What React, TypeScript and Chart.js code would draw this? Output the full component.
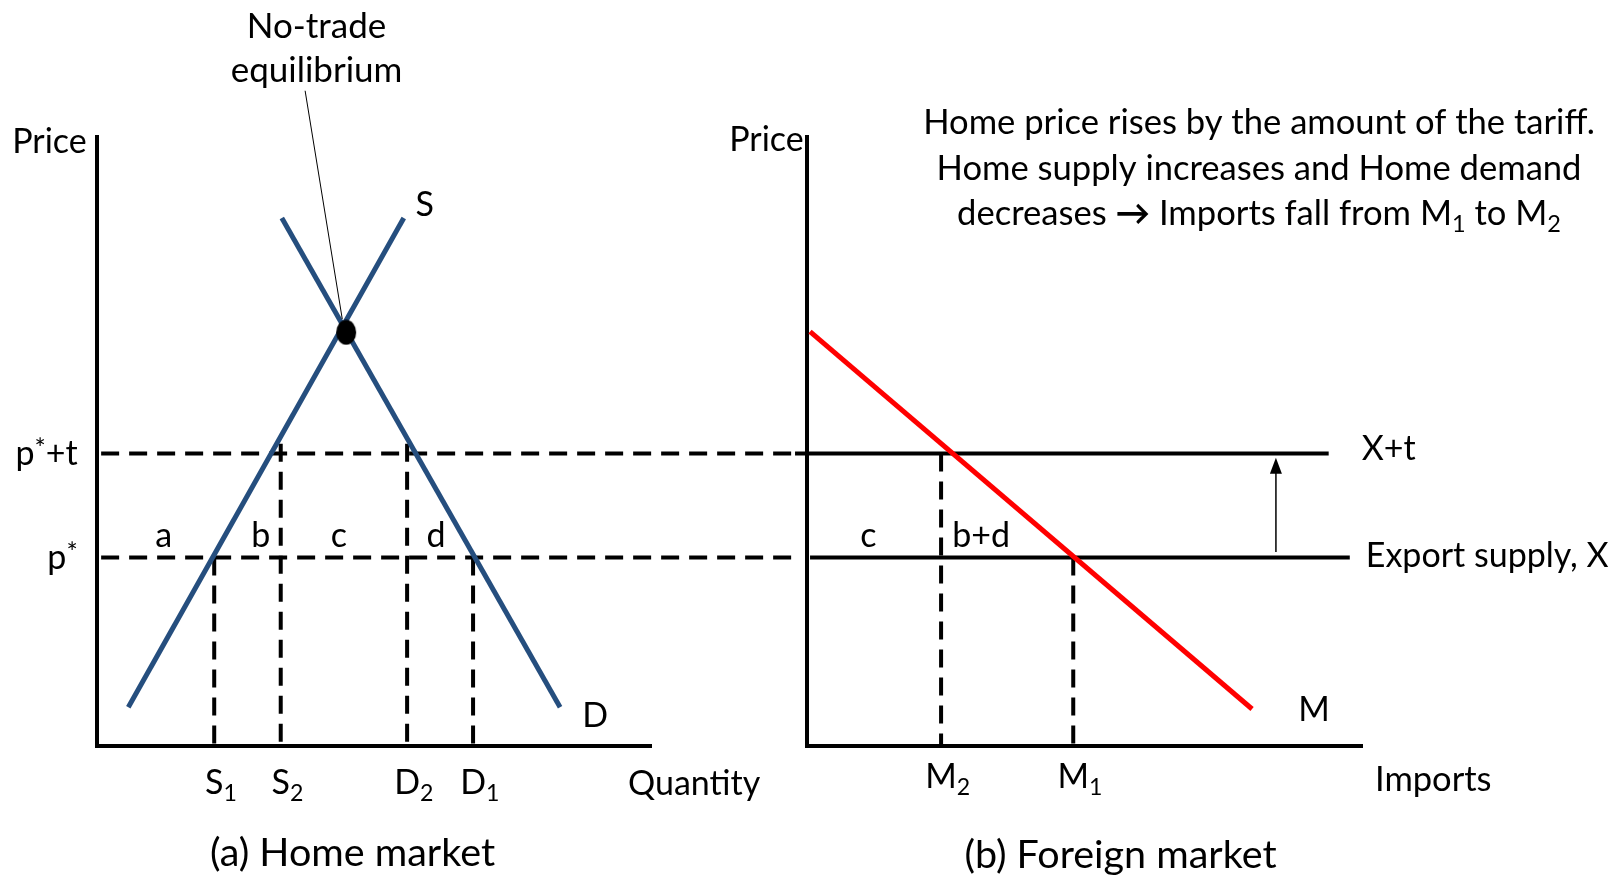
import React, { useEffect, useRef } from 'react';
import { Chart, registerables } from 'chart.js';

Chart.register(...registerables);

const FONT = 'Lato, "Open Sans", sans-serif';

// ---------- Panel (a): Home market ----------
const supplyQty = [5.7, 55.4];
const supplyPrice = [6.3, 86.7];
const demandQty = [33.4, 83.6];
const demandPrice = [86.7, 6.3];
const equilibriumQty = [45.0];
const equilibriumPrice = [67.9];
const leaderQty = [37.6, 44.3];
const leaderPrice = [107.6, 70.1];
const priceLevels = [30.9, 48.0]; // p*, p*+t
const priceDashEnd = [126.5, 126.5];
const homeMarks = [21.2, 33.2, 56.0, 67.9]; // S1, S2, D2, D1
const homeMarkTop = [30.9, 49.6, 49.6, 30.9];
const homeMarkLabels = [['S', '1'], ['S', '2'], ['D', '2'], ['D', '1']];
const areaLabels = ['a', 'b', 'c', 'd'];
const areaLabelQty = [12.1, 29.6, 43.7, 61.2];
const areaLabelPrice = [34.6];

// ---------- Panel (b): Foreign market ----------
const importQty = [0.6, 80.2];
const importPrice = [68.0, 6.0];
const exportLineStart = [0.6, -2.1]; // X, X+t
const exportLineEnd = [97.8, 94.0];
const importMarks = [24.2, 48.0]; // M2, M1
const importMarkTop = [48.0, 30.9];
const importMarkLabels = [['M', '2'], ['M', '1']];
const arrowQty = [84.5];
const arrowPrice = [31.8, 47.3];
const foreignAreaLabels = ['c', 'b+d'];
const foreignAreaQty = [11.1, 31.4];

type Seg = [string, number]; // 0 normal, 1 superscript, 2 subscript, 3 bold

function rich(
  ctx: CanvasRenderingContext2D,
  segs: Seg[],
  x: number,
  y: number,
  size: number,
  align: 'left' | 'center' | 'right' | 'first'
) {
  const sizes = segs.map(([, m]) => (m === 1 ? size * 0.78 : m === 2 ? size * 0.68 : size));
  const fonts = segs.map(([, m], i) => `${m === 3 ? 'bold ' : ''}${sizes[i]}px ${FONT}`);
  const widths = segs.map(([t], i) => {
    ctx.font = fonts[i];
    return ctx.measureText(t).width;
  });
  const total = widths.reduce((a, b) => a + b, 0);
  let sx =
    align === 'left' ? x : align === 'right' ? x - total : align === 'center' ? x - total / 2 : x - widths[0] / 2;
  ctx.textAlign = 'left';
  ctx.textBaseline = 'alphabetic';
  ctx.fillStyle = '#000';
  segs.forEach(([t, m], i) => {
    ctx.font = fonts[i];
    const dy = m === 1 ? -size * 0.22 : m === 2 ? size * 0.2 : 0;
    ctx.fillText(t, sx, y + size * 0.35 + dy);
    sx += widths[i];
  });
}

const pts = (xs: number[], ys: number[]) => xs.map((x, i) => ({ x, y: ys[i] }));

const line = (
  data: { x: number; y: number }[],
  color: string,
  width: number,
  order: number,
  dash: number[] = []
) => ({
  data,
  order,
  showLine: true,
  borderColor: color,
  borderWidth: width,
  borderDash: dash,
  borderCapStyle: 'butt' as const,
  pointRadius: 0,
  clip: false as const,
});

const DASH = [18, 10];

function axisScale() {
  return {
    type: 'linear' as const,
    min: 0,
    max: 100,
    ticks: { display: false },
    grid: { display: false, drawTicks: false },
    border: { display: true, color: '#000', width: 4 },
  };
}

function ellipseMarker() {
  const c = document.createElement('canvas');
  c.width = 22;
  c.height = 26;
  const g = c.getContext('2d')!;
  g.fillStyle = '#000';
  g.beginPath();
  g.ellipse(11, 13, 10, 12.5, 0, 0, Math.PI * 2);
  g.fill();
  return c;
}

function makeHome(canvas: HTMLCanvasElement) {
  const datasets: any[] = [];
  priceLevels.forEach((p, i) => datasets.push(line(pts([0.8, priceDashEnd[i]], [p, p]), '#000', 4, 3, DASH)));
  homeMarks.forEach((q, i) => datasets.push(line(pts([q, q], [homeMarkTop[i], 0]), '#000', 4, 3, DASH)));
  datasets.push(line(pts(supplyQty, supplyPrice), '#254E7E', 5, 2));
  datasets.push(line(pts(demandQty, demandPrice), '#254E7E', 5, 2));
  datasets.push(line(pts(leaderQty, leaderPrice), '#000', 1, 1));
  datasets.push({
    data: pts(equilibriumQty, equilibriumPrice),
    order: 0,
    showLine: false,
    pointStyle: ellipseMarker(),
    pointRadius: 12,
    clip: false,
  });

  const textPlugin = {
    id: 'homeText',
    afterDatasetsDraw(chart: any) {
      const ctx = chart.ctx as CanvasRenderingContext2D;
      const xs = chart.scales.x;
      const ys = chart.scales.y;
      const area = chart.chartArea;
      ctx.save();
      rich(ctx, [['No-trade', 0]], 316.5, 26, 35, 'center');
      rich(ctx, [['equilibrium', 0]], 316.5, 70, 35, 'center');
      rich(ctx, [['Price', 0]], area.left - 10, area.top + 4, 34, 'right');
      rich(ctx, [['p', 0], ['*', 1], ['+t', 0]], area.left - 19, ys.getPixelForValue(priceLevels[1]), 34, 'right');
      rich(ctx, [['p', 0], ['*', 1]], area.left - 19, ys.getPixelForValue(priceLevels[0]), 34, 'right');
      areaLabels.forEach((t, i) =>
        rich(ctx, [[t, 0]], xs.getPixelForValue(areaLabelQty[i]), ys.getPixelForValue(areaLabelPrice[0]), 34, 'center')
      );
      rich(ctx, [['S', 0]], xs.getPixelForValue(supplyQty[1]) + 21, ys.getPixelForValue(supplyPrice[1]) - 14, 34, 'center');
      rich(ctx, [['D', 0]], xs.getPixelForValue(demandQty[1]) + 35, ys.getPixelForValue(demandPrice[1]) + 8, 34, 'center');
      homeMarks.forEach((q, i) =>
        rich(ctx, [[homeMarkLabels[i][0], 0], [homeMarkLabels[i][1], 2]], xs.getPixelForValue(q), area.bottom + 37, 34, 'first')
      );
      rich(ctx, [['Quantity', 0]], area.right - 23, area.bottom + 38, 34, 'left');
      rich(ctx, [['(a) Home market', 0]], 352.5, 852, 39.5, 'center');
      ctx.restore();
    },
  };

  return new Chart(canvas, {
    type: 'scatter',
    data: { datasets },
    options: {
      animation: false,
      responsive: false,
      events: [],
      layout: { padding: { left: 96.7, right: 1612 - 651, top: 137, bottom: 875 - 745.5 } },
      plugins: { legend: { display: false }, tooltip: { enabled: false } },
      scales: { x: axisScale(), y: axisScale() },
    },
    plugins: [textPlugin],
  });
}

function makeForeign(canvas: HTMLCanvasElement) {
  const datasets: any[] = [];
  importMarks.forEach((q, i) => datasets.push(line(pts([q, q], [importMarkTop[i], 0]), '#000', 4, 3, DASH)));
  priceLevels.forEach((p, i) =>
    datasets.push(line(pts([exportLineStart[i], exportLineEnd[i]], [p, p]), '#000', 4, 2))
  );
  datasets.push(line(pts(importQty, importPrice), '#FF0000', 5, 0));
  datasets.push(line(pts([arrowQty[0], arrowQty[0]], [arrowPrice[0], arrowPrice[1] - 2]), '#000', 1.5, 1));

  const textPlugin = {
    id: 'foreignText',
    afterDatasetsDraw(chart: any) {
      const ctx = chart.ctx as CanvasRenderingContext2D;
      const xs = chart.scales.x;
      const ys = chart.scales.y;
      const area = chart.chartArea;
      ctx.save();
      // arrow head
      const ax = xs.getPixelForValue(arrowQty[0]);
      const ay = ys.getPixelForValue(arrowPrice[1]);
      ctx.fillStyle = '#000';
      ctx.beginPath();
      ctx.moveTo(ax, ay);
      ctx.lineTo(ax - 6, ay + 16);
      ctx.lineTo(ax + 6, ay + 16);
      ctx.closePath();
      ctx.fill();

      rich(ctx, [['Price', 0]], area.left - 3, area.top + 2, 34, 'right');
      const cx = 1259;
      rich(ctx, [['Home price rises by the amount of the tariff.', 0]], cx, 122, 34.6, 'center');
      rich(ctx, [['Home supply increases and Home demand', 0]], cx, 167.5, 34.6, 'center');
      rich(
        ctx,
        [['decreases ', 0], ['\u2192', 3], [' Imports fall from M', 0], ['1', 2], [' to M', 0], ['2', 2]],
        cx,
        213,
        34.6,
        'center'
      );
      rich(ctx, [['X+t', 0]], xs.getPixelForValue(exportLineEnd[1]) + 33, ys.getPixelForValue(priceLevels[1]) - 5, 34, 'left');
      rich(ctx, [['Export supply, X', 0]], xs.getPixelForValue(exportLineEnd[0]) + 16, ys.getPixelForValue(priceLevels[0]) - 2, 34, 'left');
      rich(ctx, [['M', 0]], xs.getPixelForValue(importQty[1]) + 62, ys.getPixelForValue(importPrice[1]), 34, 'center');
      foreignAreaLabels.forEach((t, i) =>
        rich(ctx, [[t, 0]], xs.getPixelForValue(foreignAreaQty[i]), ys.getPixelForValue(areaLabelPrice[0]), 34, 'center')
      );
      importMarks.forEach((q, i) =>
        rich(ctx, [[importMarkLabels[i][0], 0], [importMarkLabels[i][1], 2]], xs.getPixelForValue(q), area.bottom + 31, 34, 'first')
      );
      rich(ctx, [['Imports', 0]], area.right + 13, area.bottom + 33, 34.5, 'left');
      rich(ctx, [['(b) Foreign market', 0]], 1120.5, 854, 39.5, 'center');
      ctx.restore();
    },
  };

  return new Chart(canvas, {
    type: 'scatter',
    data: { datasets },
    options: {
      animation: false,
      responsive: false,
      events: [],
      layout: { padding: { left: 806.7, right: 1612 - 1362, top: 137, bottom: 875 - 745.5 } },
      plugins: { legend: { display: false }, tooltip: { enabled: false } },
      scales: { x: axisScale(), y: axisScale() },
    },
    plugins: [textPlugin],
  });
}

export default function App() {
  const homeRef = useRef<HTMLCanvasElement>(null);
  const foreignRef = useRef<HTMLCanvasElement>(null);

  useEffect(() => {
    const a = makeHome(homeRef.current!);
    const b = makeForeign(foreignRef.current!);
    return () => {
      a.destroy();
      b.destroy();
    };
  }, []);

  const cstyle: React.CSSProperties = { position: 'absolute', left: 0, top: 0, width: 1612, height: 875 };
  return (
    <div style={{ position: 'fixed', left: 0, top: 0, width: 1612, height: 875, background: '#fff', overflow: 'hidden' }}>
      <canvas ref={homeRef} width={1612} height={875} style={cstyle} />
      <canvas ref={foreignRef} width={1612} height={875} style={cstyle} />
    </div>
  );
}
